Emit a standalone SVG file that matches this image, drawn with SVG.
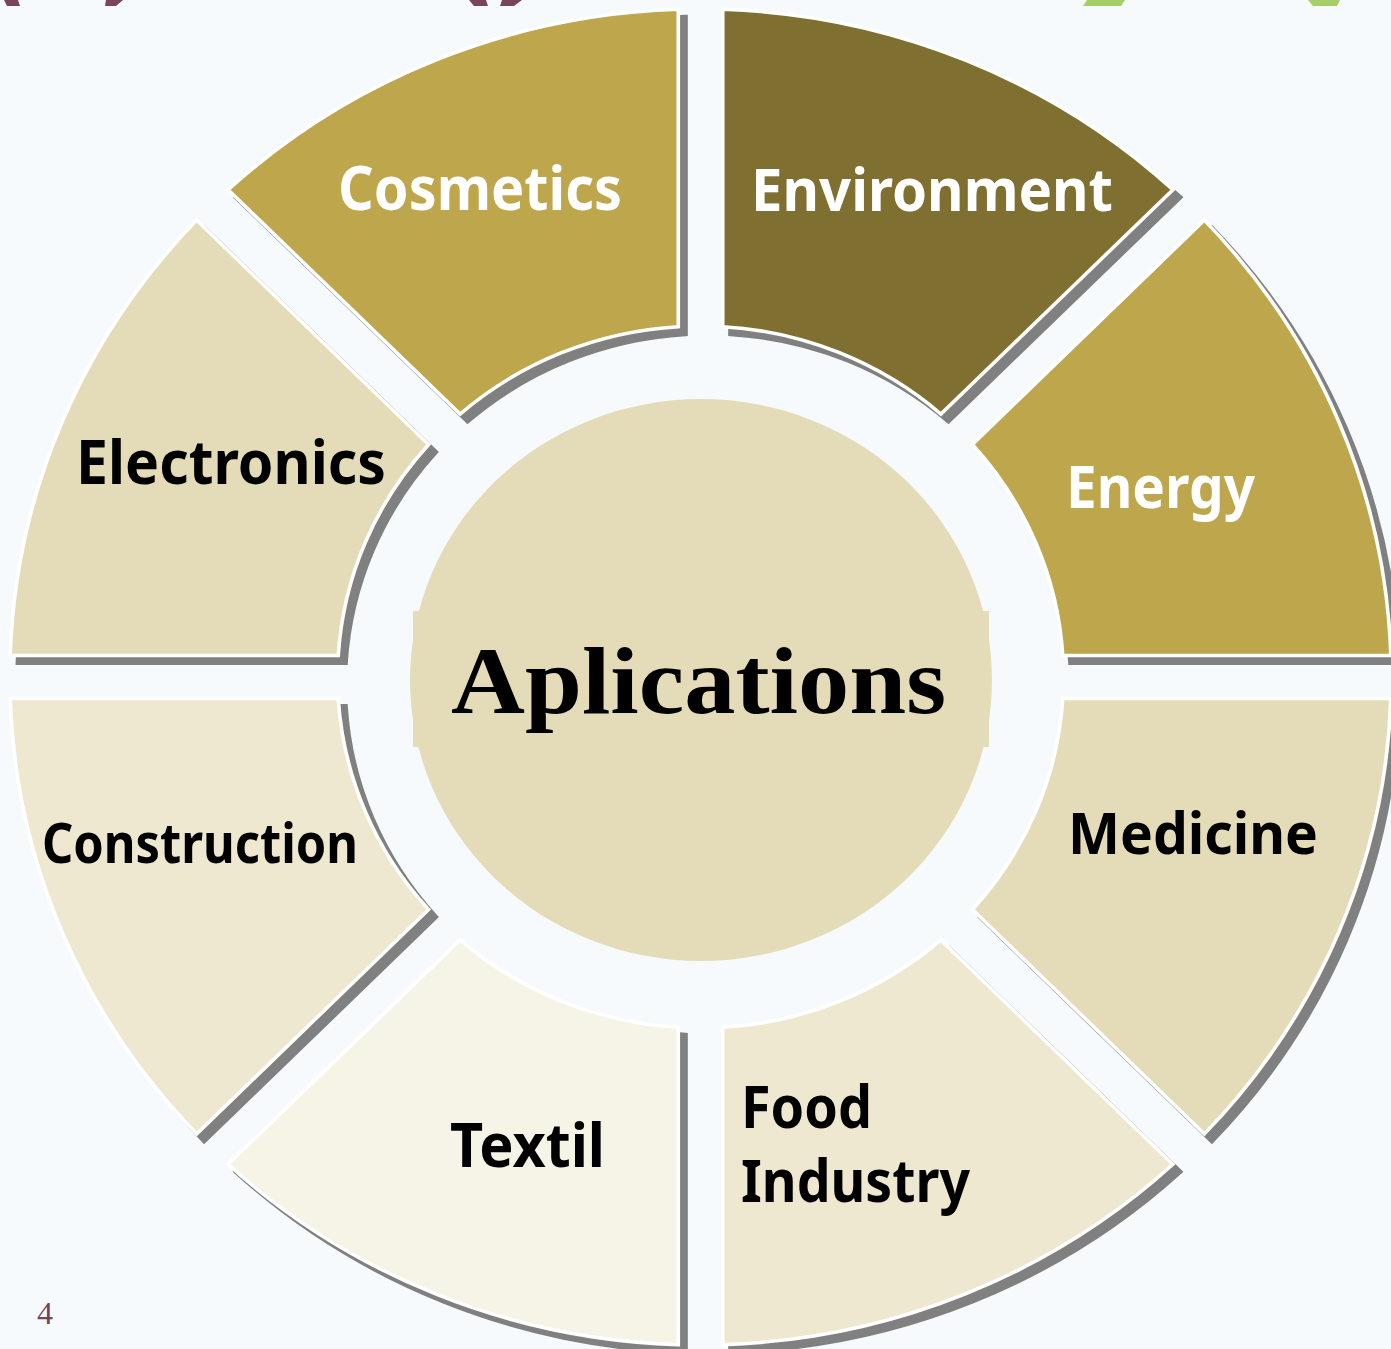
<svg xmlns="http://www.w3.org/2000/svg" width="1391" height="1349" viewBox="0 0 1391 1349">
  <defs>
    <!-- one ring sector (upper-left quarter wedge), drawn around the ring centre in unscaled units -->
    <path id="seg" d="M -21.5,-667.65 A 668,668 0 0 0 -456.89,-487.29 L -232.52,-262.92 A 351,351 0 0 1 -21.5,-350.34 Z"/>
  </defs>
  <style>
    .sh { fill: #808080; stroke: #808080; stroke-width: 4; stroke-linejoin: miter; }
    .seg { stroke: #ffffff; stroke-width: 3.5; stroke-linejoin: miter; }
    .gold { fill: #BDA64C; }
    .olive { fill: #7F6F31; }
    .sand { fill: #E4DCB8; }
    .cream { fill: #EEE8D1; }
    .ivory { fill: #F6F3E7; }
    .lbl { font-family: "Noto Sans", "Liberation Sans", sans-serif; font-weight: 700; }
    .w { fill: #ffffff; }
    .k { fill: #000000; }
    .title { font-family: "Liberation Serif", "DejaVu Serif", serif; font-weight: 700; fill: #000000; }
  </style>

  <rect x="0" y="0" width="1391" height="1349" fill="#F7FAFC"/>

  <!-- fragments of the heading strip cut by the top edge -->
  <g id="heading-fragments">
    <polygon points="4,0 18,0 20,6 7,6" fill="#78455A"/>
    <polygon points="106,0 123,0 116,6 105,6" fill="#78455A"/>
    <polygon points="469,0 486,0 488,6 474,6" fill="#78455A"/>
    <polygon points="502,0 522,0 514,6 500,6" fill="#78455A"/>
    <polygon points="1087,0 1125,0 1121,6 1083,6" fill="#A6CF67"/>
    <polygon points="1308,0 1340,0 1337,6 1313,6" fill="#A6CF67"/>
  </g>

  <g id="cosmetics">
    <use href="#seg" class="sh" transform="translate(708 684.5) scale(1.034 1) rotate(0)"/>
    <use href="#seg" class="seg gold" transform="translate(700.5 677) scale(1.034 1) rotate(0)"/>
    <text class="lbl w" x="338" y="210" font-size="61" textLength="284" lengthAdjust="spacingAndGlyphs">Cosmetics</text>
  </g>

  <g id="environment">
    <use href="#seg" class="sh" transform="translate(708 684.5) scale(1.034 1) rotate(45)"/>
    <use href="#seg" class="seg olive" transform="translate(700.5 677) scale(1.034 1) rotate(45)"/>
    <text class="lbl w" x="751" y="211" font-size="60" textLength="362" lengthAdjust="spacingAndGlyphs">Environment</text>
  </g>

  <g id="energy">
    <use href="#seg" class="sh" transform="translate(708 684.5) scale(1.034 1) rotate(90)"/>
    <use href="#seg" class="seg gold" transform="translate(700.5 677) scale(1.034 1) rotate(90)"/>
    <text class="lbl w" x="1066" y="508" font-size="59" textLength="189" lengthAdjust="spacingAndGlyphs">Energy</text>
  </g>

  <g id="medicine">
    <use href="#seg" class="sh" transform="translate(708 684.5) scale(1.034 1) rotate(135)"/>
    <use href="#seg" class="seg sand" transform="translate(700.5 677) scale(1.034 1) rotate(135)"/>
    <text class="lbl k" x="1068" y="854" font-size="57" textLength="250" lengthAdjust="spacingAndGlyphs">Medicine</text>
  </g>

  <g id="food-industry">
    <use href="#seg" class="sh" transform="translate(708 684.5) scale(1.034 1) rotate(180)"/>
    <use href="#seg" class="seg cream" transform="translate(700.5 677) scale(1.034 1) rotate(180)"/>
    <text class="lbl k" x="741" y="1128" font-size="60" textLength="131" lengthAdjust="spacingAndGlyphs">Food</text>
    <text class="lbl k" x="741" y="1202" font-size="60" textLength="229" lengthAdjust="spacingAndGlyphs">Industry</text>
  </g>

  <g id="textil">
    <use href="#seg" class="sh" transform="translate(708 684.5) scale(1.034 1) rotate(225)"/>
    <use href="#seg" class="seg ivory" transform="translate(700.5 677) scale(1.034 1) rotate(225)"/>
    <text class="lbl k" x="450" y="1167" font-size="61" textLength="155" lengthAdjust="spacingAndGlyphs">Textil</text>
  </g>

  <g id="construction">
    <use href="#seg" class="sh" transform="translate(708 684.5) scale(1.034 1) rotate(270)"/>
    <use href="#seg" class="seg cream" transform="translate(700.5 677) scale(1.034 1) rotate(270)"/>
    <text class="lbl k" x="42" y="863" font-size="55" textLength="316" lengthAdjust="spacingAndGlyphs">Construction</text>
  </g>

  <g id="electronics">
    <use href="#seg" class="sh" transform="translate(708 684.5) scale(1.034 1) rotate(315)"/>
    <use href="#seg" class="seg sand" transform="translate(700.5 677) scale(1.034 1) rotate(315)"/>
    <text class="lbl k" x="76" y="484" font-size="61" textLength="310" lengthAdjust="spacingAndGlyphs">Electronics</text>
  </g>

  <g id="aplications">
    <ellipse cx="701" cy="680" rx="291" ry="281" class="sand"/>
    <rect x="413" y="611" width="576" height="136" class="sand"/>
    <text class="title" x="451" y="713" font-size="96" textLength="495" lengthAdjust="spacingAndGlyphs">Aplications</text>
  </g>

  <text id="page-number" x="37" y="1324" font-family="Liberation Serif, DejaVu Serif, serif" font-size="32" fill="#74445A">4</text>
</svg>
